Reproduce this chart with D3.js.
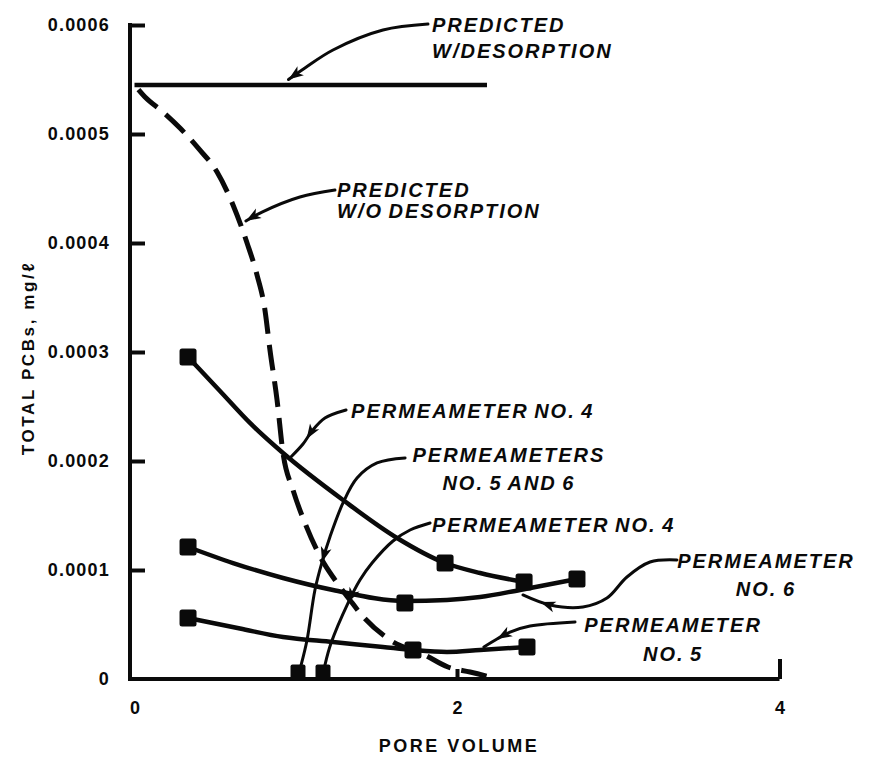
<!DOCTYPE html>
<html><head><meta charset="utf-8">
<script src="https://cdn.jsdelivr.net/npm/d3@7"></script>
<style>body{margin:0;background:#fff}</style>
</head><body><svg id="chart" width="869" height="757"></svg>
<script>
// ---- data ----
const xTickValues = [0, 2, 4];
const yTickValues = [0, 0.0001, 0.0002, 0.0003, 0.0004, 0.0005, 0.0006];
const xTitle = "PORE VOLUME";
const yTitle = "TOTAL PCBs, mg/ℓ";

const predWithX = [0, 2.186];
const predWithY = [0.000545, 0.000545];

const predWithoutX = [0, 0.065, 0.177, 0.282, 0.394, 0.512, 0.611, 0.698, 0.760, 0.809, 0.840, 0.884, 0.921, 0.983, 1.057, 1.163, 1.243, 1.336, 1.398, 1.584, 1.801, 1.944, 2.081, 2.224];
const predWithoutY = [5.45e-4, 5.339e-4, 5.202e-4, 5.055e-4, 4.872e-4, 4.651e-4, 4.349e-4, 4.0e-4, 3.706e-4, 3.385e-4, 3.02e-4, 2.56e-4, 2.073e-4, 1.734e-4, 1.431e-4, 1.092e-4, 9.1e-5, 7.25e-5, 6.06e-5, 3.58e-5, 2.2e-5, 1.1e-5, 6.4e-6, 1e-6];

const perm4CurveX = [0.332, 0.530, 0.716, 0.921, 1.293, 1.628, 1.926, 2.143, 2.416];
const perm4CurveY = [2.954e-4, 2.642e-4, 2.349e-4, 2.073e-4, 1.642e-4, 1.294e-4, 1.064e-4, 9.72e-5, 8.9e-5];
const perm4PointsX = [0.332, 1.926, 2.416];
const perm4PointsY = [2.954e-4, 1.064e-4, 8.9e-5];

const perm6CurveX = [0.332, 0.611, 0.921, 1.231, 1.677, 1.938, 2.143, 2.391, 2.744];
const perm6CurveY = [1.211e-4, 1.064e-4, 9.27e-5, 8.17e-5, 7.16e-5, 7.25e-5, 7.52e-5, 8.17e-5, 9.17e-5];
const perm6PointsX = [0.332, 1.677, 2.744];
const perm6PointsY = [1.211e-4, 6.97e-5, 9.17e-5];

const perm5CurveX = [0.332, 0.654, 0.921, 1.231, 1.541, 1.727, 1.938, 2.143, 2.434];
const perm5CurveY = [5.6e-5, 4.63e-5, 3.85e-5, 3.39e-5, 2.94e-5, 2.66e-5, 2.48e-5, 2.66e-5, 2.94e-5];
const perm5PointsX = [0.332, 1.727, 2.434];
const perm5PointsY = [5.6e-5, 2.66e-5, 2.94e-5];

const earlyPointsX = [1.014, 1.169];
const earlyPointsY = [6.4e-6, 6.4e-6];

// annotation labels (anchor in data units)
const labelText = [["PREDICTED","W/DESORPTION"],["PREDICTED","W/O DESORPTION"],["PERMEAMETER NO. 4"],["PERMEAMETERS","NO. 5 AND 6"],["PERMEAMETER NO. 4"],["PERMEAMETER","NO. 6"],["PERMEAMETER","NO. 5"]];
const labelX = [1.845, 1.256, 1.343, 2.322, 1.845, 3.916, 3.340];
const labelY = [5.936e-4, 4.422e-4, 2.394e-4, 1.991e-4, 1.349e-4, 1.018e-4, 4.31e-5];
const labelAlign = ["start","start","start","middle","start","middle","middle"];

// leader lines (data units) and arrow position along each
const leaderX = [
  [1.820, 1.541, 1.231, 1.057, 0.955],
  [1.243, 1.026, 0.791, 0.691],
  [1.312, 1.181, 1.101, 1.045, 0.970],
  [1.678, 1.504, 1.380, 1.293, 1.212, 1.163, 1.119, 1.070, 1.033],
  [1.833, 1.709, 1.603, 1.473, 1.398, 1.324, 1.219, 1.181],
  [3.364, 3.197, 3.054, 2.930, 2.781, 2.577, 2.409],
  [2.732, 2.453, 2.329, 2.248, 2.167]
];
const leaderY = [
  [6.009e-4, 5.954e-4, 5.771e-4, 5.606e-4, 5.50e-4],
  [4.486e-4, 4.422e-4, 4.284e-4, 4.202e-4],
  [2.468e-4, 2.394e-4, 2.275e-4, 2.156e-4, 2.037e-4],
  [2.028e-4, 1.982e-4, 1.844e-4, 1.615e-4, 1.303e-4, 1.073e-4, 8.17e-5, 3.58e-5, 1.28e-5],
  [1.431e-4, 1.367e-4, 1.266e-4, 1.064e-4, 9.08e-5, 6.97e-5, 3.30e-5, 1.28e-5],
  [1.092e-4, 1.073e-4, 9.36e-5, 7.43e-5, 6.61e-5, 6.79e-5, 7.71e-5],
  [5.23e-5, 4.86e-5, 4.31e-5, 3.67e-5, 2.94e-5]
];
const leaderArrowAt = [1, 1, 0.68, 0.58, 0.64, 0.89, 0.84];

// ---- drawing ----
const svg = d3.select("#chart");
const x = d3.scaleLinear().domain([0, 4]).range([134.5, 779.5]);
const y = d3.scaleLinear().domain([0, 0.0006]).range([679, 25]);
const ink = "#0a0a0a";
const tickFont = "'Liberation Sans', Arial, sans-serif";

// y axis
const yAxis = d3.axisLeft(y).tickValues(yTickValues)
  .tickSizeInner(-15).tickSizeOuter(0).tickPadding(20)
  .tickFormat(d => d === 0 ? "0" : d.toFixed(4));
const gy = svg.append("g").attr("transform", "translate(130,0)").call(yAxis);
gy.select(".domain").attr("stroke", ink).attr("stroke-width", 4).attr("d", `M0,${y(0)+2}V${y(0.0006)-2}`);
gy.selectAll(".tick line").attr("stroke", ink).attr("stroke-width", 4)
  .attr("display", d => d === 0 ? "none" : null);
gy.selectAll(".tick text").attr("font-family", tickFont).attr("font-weight", "bold")
  .attr("font-size", 18).attr("letter-spacing", 1.2).attr("fill", ink);

// x axis
const xAxis = d3.axisBottom(x).tickValues(xTickValues)
  .tickSizeInner(-12).tickSizeOuter(0).tickPadding(22).tickFormat(d3.format("d"));
const gx = svg.append("g").attr("transform", `translate(0,${y(0)})`).call(xAxis);
gx.select(".domain").attr("stroke", ink).attr("stroke-width", 4).attr("d", `M128,0H${x(4)}`);
gx.selectAll(".tick line").attr("stroke", ink).attr("stroke-width", 4)
  .attr("y2", d => d === 4 ? -20 : -10)
  .attr("display", d => d === 0 ? "none" : null);
gx.selectAll(".tick text").attr("font-family", tickFont).attr("font-weight", "bold")
  .attr("font-size", 18).attr("fill", ink);

// axis titles
svg.append("text").attr("x", 459).attr("y", 752).attr("text-anchor", "middle")
  .attr("font-family", tickFont).attr("font-weight", "bold").attr("font-size", 18)
  .attr("letter-spacing", 2.5).attr("fill", ink).text(xTitle);
svg.append("text").attr("transform", "translate(34,358) rotate(-90)").attr("text-anchor", "middle")
  .attr("font-family", tickFont).attr("font-weight", "bold").attr("font-size", 17)
  .attr("letter-spacing", 2.6).attr("fill", ink).text(yTitle);

const zip = (xs, ys) => xs.map((v, i) => [v, ys[i]]);
const smooth = d3.line().x(d => x(d[0])).y(d => y(d[1])).curve(d3.curveMonotoneX);
const leaderLine = d3.line().x(d => x(d[0])).y(d => y(d[1])).curve(d3.curveCatmullRom.alpha(0.5));

// predicted with desorption
svg.append("path").attr("d", smooth(zip(predWithX, predWithY)))
  .attr("fill", "none").attr("stroke", ink).attr("stroke-width", 4.5);
// predicted without desorption (dashed)
svg.append("path").attr("d", smooth(zip(predWithoutX, predWithoutY)))
  .attr("fill", "none").attr("stroke", ink).attr("stroke-width", 5)
  .attr("stroke-dasharray", "26,11").attr("stroke-dashoffset", -6);

// permeameter curves
[[perm4CurveX, perm4CurveY], [perm6CurveX, perm6CurveY], [perm5CurveX, perm5CurveY]].forEach(([cx, cy]) => {
  svg.append("path").attr("d", smooth(zip(cx, cy)))
    .attr("fill", "none").attr("stroke", ink).attr("stroke-width", 4.5).attr("stroke-linecap", "round");
});

// leaders with arrowheads
leaderX.forEach((lx, i) => {
  const p = svg.append("path").attr("d", leaderLine(zip(lx, leaderY[i])))
    .attr("fill", "none").attr("stroke", ink).attr("stroke-width", 3).attr("stroke-linecap", "round");
  const node = p.node();
  const L = node.getTotalLength();
  const s = L * leaderArrowAt[i];
  const tip = node.getPointAtLength(s);
  const back = node.getPointAtLength(Math.max(0, s - 4));
  const ang = Math.atan2(tip.y - back.y, tip.x - back.x) * 180 / Math.PI;
  svg.append("path").attr("d", "M0,0 L-15,-5.5 L-11,0 L-15,5.5 Z")
    .attr("transform", `translate(${tip.x},${tip.y}) rotate(${ang})`).attr("fill", ink);
});

// markers
const allPts = zip(perm4PointsX, perm4PointsY).concat(zip(perm6PointsX, perm6PointsY), zip(perm5PointsX, perm5PointsY));
const ms = 17;
svg.append("g").selectAll("rect").data(allPts).join("rect")
  .attr("x", d => x(d[0]) - ms / 2).attr("y", d => y(d[1]) - ms / 2)
  .attr("width", ms).attr("height", ms).attr("rx", 2.5).attr("fill", ink);
const ms2 = 15;
svg.append("g").selectAll("rect").data(zip(earlyPointsX, earlyPointsY)).join("rect")
  .attr("x", d => x(d[0]) - ms2 / 2).attr("y", d => y(d[1]) - ms2 / 2)
  .attr("width", ms2).attr("height", ms2).attr("rx", 2).attr("fill", ink);

// labels
const lineGap = [26, 21, 0, 28, 0, 28, 29];
labelText.forEach((lines, i) => {
  const t = svg.append("text").attr("x", x(labelX[i])).attr("y", y(labelY[i]))
    .attr("text-anchor", labelAlign[i])
    .attr("font-family", tickFont).attr("font-weight", "bold").attr("font-style", "italic")
    .attr("font-size", 20).attr("letter-spacing", 2).attr("word-spacing", -2).attr("fill", ink);
  lines.forEach((ln, j) => {
    t.append("tspan").attr("x", x(labelX[i])).attr("dy", j === 0 ? 0 : lineGap[i]).text(ln);
  });
});
</script></body></html>
